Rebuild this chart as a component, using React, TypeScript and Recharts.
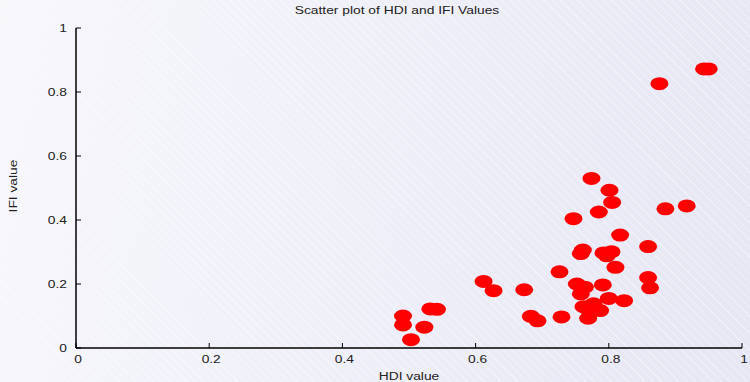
import React from 'react';
import { ScatterChart, Scatter, XAxis, YAxis, Label } from 'recharts';

// HDI value (x) and IFI value (y)
const hdiValues = [
  0.491, 0.491, 0.503, 0.523, 0.532, 0.542, 0.612, 0.627, 0.673, 0.683, 0.693,
  0.729, 0.726, 0.747, 0.752, 0.764, 0.758, 0.791, 0.8, 0.823, 0.767, 0.777,
  0.787, 0.769, 0.862, 0.859, 0.859, 0.817, 0.761, 0.758, 0.792, 0.804, 0.797,
  0.81, 0.774, 0.801, 0.805, 0.785, 0.885, 0.917, 0.876, 0.943, 0.95, 0.762,
];
const ifiValues = [
  0.1, 0.072, 0.026, 0.065, 0.122, 0.121, 0.208, 0.179, 0.182, 0.099, 0.085,
  0.097, 0.238, 0.404, 0.2, 0.19, 0.169, 0.197, 0.155, 0.148, 0.124, 0.138,
  0.117, 0.093, 0.188, 0.22, 0.317, 0.353, 0.306, 0.295, 0.297, 0.301, 0.288,
  0.252, 0.53, 0.493, 0.455, 0.425, 0.435, 0.444, 0.826, 0.872, 0.872, 0.129,
];
const axisTicks = [0, 0.2, 0.4, 0.6, 0.8, 1];

const points = hdiValues.map((hdi, i) => ({ hdi, ifi: ifiValues[i] }));

const font = 'Liberation Sans, Arial, Helvetica, sans-serif';
const textColor = '#222';
const fs = 11.5;
const stretch = 1.2; // the reference text is drawn a bit wide

// text stretched horizontally around its anchor point
const WideText = ({ x, y, anchor = 'middle', rotate = 0, children }: any) => (
  <text
    transform={`translate(${x} ${y}) rotate(${rotate}) scale(${stretch} 1)`}
    textAnchor={anchor}
    fontSize={fs}
    fontFamily={font}
    fill={textColor}
  >
    {children}
  </text>
);

const BottomTick = ({ x, y, payload }: any) => (
  <g>
    <line x1={x} y1={y} x2={x} y2={y - 5} stroke="#000" />
    <WideText x={x + 2} y={y + 15}>{String(payload.value)}</WideText>
  </g>
);

const TopTick = ({ x, y }: any) => <line x1={x} y1={y} x2={x} y2={y + 5} stroke="#000" />;

const LeftTick = ({ x, y, payload }: any) => (
  <g>
    <line x1={x} y1={y} x2={x + 5} y2={y} stroke="#000" />
    <WideText x={x - 9} y={y + 4} anchor="end">{String(payload.value)}</WideText>
  </g>
);

const RightTick = ({ x, y }: any) => <line x1={x} y1={y} x2={x - 5} y2={y} stroke="#000" />;

const Dot = (props: any) => <ellipse cx={props.cx} cy={props.cy} rx={9} ry={6.5} fill="#ff0000" />;

export default function App() {
  return (
    <div
      style={{
        position: 'absolute',
        left: 0,
        top: 0,
        width: 750,
        height: 382,
        fontFamily: font,
        background:
          'repeating-linear-gradient(45deg, rgba(255,255,255,0.35) 0px, rgba(255,255,255,0.35) 1px, transparent 1px, transparent 6px), linear-gradient(100deg, #f7f7fc, #e6e6f4)',
      }}
    >
      <div
        style={{
          position: 'absolute',
          top: 4,
          left: 0,
          width: 794,
          textAlign: 'center',
          fontSize: fs,
          color: textColor,
          transform: `scaleX(${stretch})`,
          transformOrigin: '397px 0',
        }}
      >
        Scatter plot of HDI and IFI Values
      </div>
      <ScatterChart width={750} height={382} margin={{ top: 28, right: 8, bottom: 0, left: 0 }}>
        <XAxis
          dataKey="hdi"
          type="number"
          domain={[0, 1]}
          ticks={axisTicks}
          height={34}
          tickSize={0}
          tickMargin={0}
          tickLine={false}
          axisLine={{ stroke: '#000', strokeWidth: 1.5 }}
          tick={<BottomTick />}
        >
          <Label
            content={({ viewBox }: any) => (
              <WideText x={viewBox.x + viewBox.width / 2} y={viewBox.y + 32}>
                HDI value
              </WideText>
            )}
          />
        </XAxis>
        <XAxis
          xAxisId="top"
          orientation="top"
          type="number"
          domain={[0, 1]}
          ticks={axisTicks}
          height={0}
          tickSize={0}
          tickMargin={0}
          tickLine={false}
          axisLine={{ stroke: '#000', strokeWidth: 1.5 }}
          tick={<TopTick />}
        />
        <YAxis
          dataKey="ifi"
          type="number"
          domain={[0, 1]}
          ticks={axisTicks}
          width={76}
          tickSize={0}
          tickMargin={0}
          tickLine={false}
          axisLine={{ stroke: '#000', strokeWidth: 1.5 }}
          tick={<LeftTick />}
        >
          <Label
            content={({ viewBox }: any) => (
              <WideText x={viewBox.x + 17} y={viewBox.y + viewBox.height / 2 - 2} rotate={-90}>
                IFI value
              </WideText>
            )}
          />
        </YAxis>
        <YAxis
          yAxisId="right"
          orientation="right"
          type="number"
          domain={[0, 1]}
          ticks={axisTicks}
          width={0}
          tickSize={0}
          tickMargin={0}
          tickLine={false}
          axisLine={{ stroke: '#000', strokeWidth: 1.5 }}
          tick={<RightTick />}
        />
        <Scatter data={points} shape={<Dot />} isAnimationActive={false} />
      </ScatterChart>
    </div>
  );
}
